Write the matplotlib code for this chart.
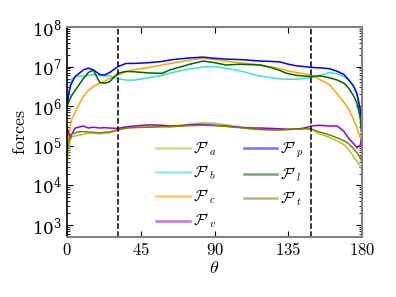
import numpy as np
import matplotlib
matplotlib.use('Agg')
import matplotlib.pyplot as plt
from matplotlib.lines import Line2D

plt.rcParams['mathtext.fontset'] = 'cm'
plt.rcParams['font.family'] = 'serif'
plt.rcParams['font.serif'] = ['DejaVu Serif']

theta = [0, 1, 2, 3, 5, 8, 10, 13, 16, 20, 23, 26, 31, 36, 41, 50, 58, 63, 70, 75,
         83, 90, 97, 105, 112, 118, 125, 130, 134, 140, 145, 149, 154, 160, 165, 169,
         172, 175, 177, 179, 180]

# log10 of the forces
log_a = [4.5, 4.9, 5.15, 5.23, 5.25, 5.27, 5.29, 5.32, 5.32, 5.3, 5.32, 5.33, 5.4, 5.45, 5.47,
         5.48, 5.5, 5.5, 5.52, 5.55, 5.58, 5.57, 5.53, 5.48, 5.44, 5.42, 5.41, 5.4, 5.41, 5.43,
         5.44, 5.42, 5.3, 5.22, 5.12, 5.03, 4.9, 4.72, 4.6, 4.48, 4.4]
log_b = [5.9, 6.3, 6.55, 6.68, 6.75, 6.76, 6.76, 6.78, 6.8, 6.78, 6.76, 6.77, 6.7, 6.66, 6.66,
         6.72, 6.78, 6.84, 6.9, 6.94, 6.99, 7.0, 6.96, 6.9, 6.82, 6.76, 6.72, 6.69, 6.68, 6.68,
         6.7, 6.72, 6.77, 6.85, 6.82, 6.75, 6.66, 6.5, 6.3, 5.9, 5.3]
log_c = [4.9, 5.2, 5.5, 5.68, 5.85, 6.1, 6.25, 6.4, 6.5, 6.58, 6.63, 6.7, 6.79, 6.87, 6.92,
         6.98, 7.04, 7.08, 7.13, 7.17, 7.21, 7.18, 7.14, 7.1, 7.07, 7.04, 6.99, 6.95, 6.9, 6.85,
         6.82, 6.78, 6.68, 6.55, 6.3, 6.1, 5.92, 5.65, 5.45, 5.2, 5.07]
log_v = [5.45, 5.35, 5.2, 5.3, 5.45, 5.48, 5.5, 5.45, 5.47, 5.45, 5.46, 5.45, 5.44, 5.48, 5.5,
         5.53, 5.52, 5.5, 5.51, 5.53, 5.54, 5.52, 5.5, 5.47, 5.45, 5.45, 5.44, 5.43, 5.42, 5.42,
         5.45, 5.5, 5.52, 5.5, 5.5, 5.36, 5.18, 5.05, 4.95, 5.02, 5.25]
log_p = [6.0, 6.3, 6.5, 6.6, 6.75, 6.85, 6.92, 6.96, 6.92, 6.8, 6.79, 6.85, 7.0, 7.08, 7.08,
         7.1, 7.13, 7.17, 7.2, 7.22, 7.24, 7.21, 7.19, 7.18, 7.16, 7.14, 7.13, 7.12, 7.07, 7.02,
         7.0, 6.98, 6.97, 6.95, 6.88, 6.8, 6.66, 6.5, 6.3, 5.9, 5.25]
log_l = [6.0, 6.1, 6.2, 6.28, 6.4, 6.58, 6.7, 6.85, 6.91, 6.6, 6.58, 6.62, 6.83, 6.88, 6.87,
         6.84, 6.83, 6.92, 7.0, 7.06, 7.14, 7.1, 7.04, 7.06, 7.05, 7.04, 6.97, 6.9, 6.83, 6.78,
         6.76, 6.75, 6.77, 6.72, 6.66, 6.58, 6.45, 6.25, 6.07, 5.7, 5.15]
log_t = [4.8, 5.1, 5.25, 5.3, 5.33, 5.36, 5.36, 5.35, 5.34, 5.33, 5.34, 5.35, 5.4, 5.45, 5.46,
         5.47, 5.48, 5.48, 5.5, 5.51, 5.52, 5.51, 5.49, 5.46, 5.43, 5.41, 5.4, 5.4, 5.41, 5.42,
         5.43, 5.43, 5.35, 5.28, 5.2, 5.13, 5.05, 4.92, 4.82, 4.7, 4.6]

series = [
    (log_a, 'yellowgreen', r"$\mathcal{F}'_a$"),
    (log_b, 'turquoise', r"$\mathcal{F}'_b$"),
    (log_c, 'orange', r"$\mathcal{F}'_c$"),
    (log_v, 'darkviolet', r"$\mathcal{F}'_v$"),
    (log_p, 'blue', r"$\mathcal{F}'_p$"),
    (log_l, 'darkgreen', r"$\mathcal{F}'_l$"),
    (log_t, 'olive', r"$\mathcal{F}'_t$"),
]
cut_angles = [31, 149]

fig = plt.figure(figsize=(3.96, 2.97), dpi=100)
ax = fig.add_axes([67 / 396, 60 / 297, 295 / 396, 210 / 297])

handles = []
for vals, col, lab in series:
    ax.plot(theta, 10 ** np.array(vals), color=col, lw=1.1)
    handles.append(Line2D([], [], color=col, lw=1.8, alpha=0.55, label=lab))

for a in cut_angles:
    ax.axvline(a, color='black', ls='--', lw=1.1)

ax.set_yscale('log')
ax.set_xlim(0, 180)
ax.set_ylim(500, 1e8)
ax.set_xticks([0, 45, 90, 135, 180])
ax.set_xticklabels([r'$0$', r'$45$', r'$90$', r'$135$', r'$180$'])
ax.tick_params(which='both', direction='in', top=True, right=True, labelsize=12)
ax.tick_params(which='major', length=4, width=0.8)
ax.tick_params(which='minor', length=2, width=0.6)
for s in ['top', 'right', 'bottom']:
    ax.spines[s].set_color('gray')
    ax.spines[s].set_linewidth(1.5)
ax.spines['left'].set_linewidth(1.2)

ax.set_xlabel(r'$\theta$', fontsize=13, labelpad=0)
ax.set_ylabel(r'$\mathrm{forces}$', fontsize=13, labelpad=2)

ax.legend(handles=handles, ncol=2, loc='upper left', bbox_to_anchor=(0.255, 0.53),
          frameon=False, fontsize=11, handlelength=2.2, labelspacing=0.35,
          columnspacing=1.8, handletextpad=0.2)

fig.savefig('out.png', dpi=100)
